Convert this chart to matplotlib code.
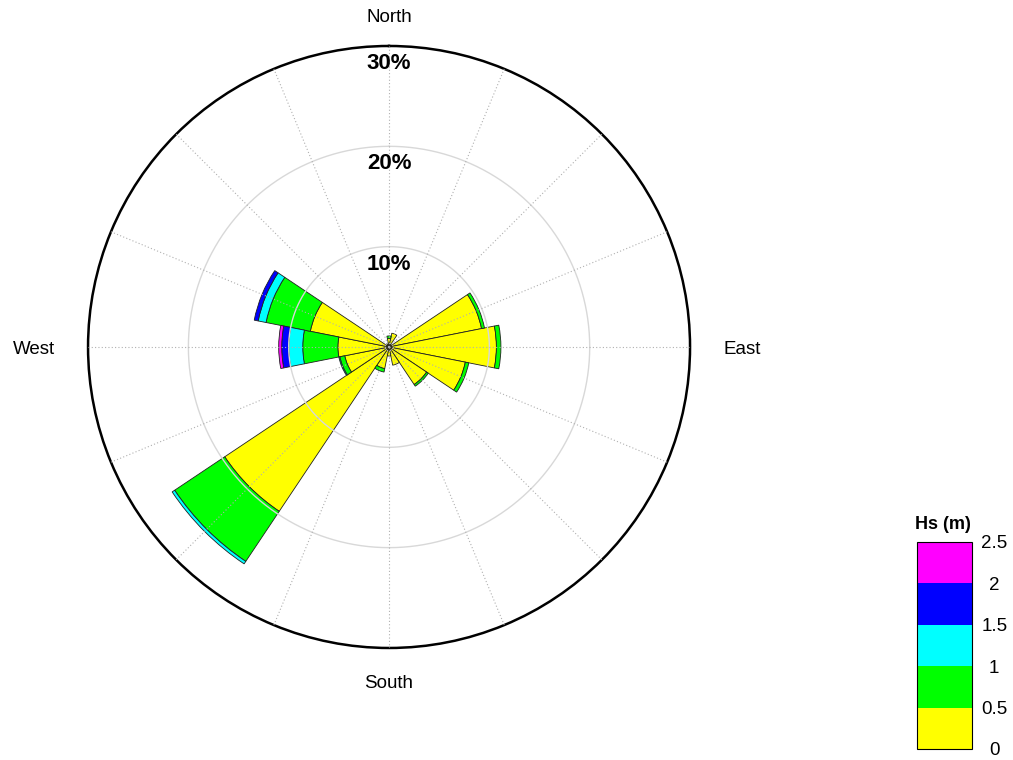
import numpy as np
import matplotlib
matplotlib.use("Agg")
import matplotlib.pyplot as plt
import matplotlib.transforms as mtransforms
from matplotlib.colors import ListedColormap, BoundaryNorm
from matplotlib.cm import ScalarMappable

plt.rcParams['font.family'] = ['Liberation Sans', 'DejaVu Sans']

# Direction sectors (clockwise from North, 22.5 deg each)
directions = ['N', 'NNE', 'NE', 'ENE', 'E', 'ESE', 'SE', 'SSE',
              'S', 'SSW', 'SW', 'WSW', 'W', 'WNW', 'NW', 'NNW']

# Frequency of occurrence (%) per direction for each Hs class
hs_0_05 = [0.85, 1.4, 0.4, 9.4, 10.7, 7.75, 4.5, 1.85, 0.9, 2.2, 19.7, 4.5, 5.1, 8.0, 0.3, 0.4]
hs_05_1 = [0.25, 0.0, 0.0, 0.3, 0.45, 0.35, 0.2, 0.0, 0.0, 0.35, 6.0, 0.5, 3.5, 4.5, 0.0, 0.0]
hs_1_15 = [0.0, 0.0, 0.0, 0.0, 0.0, 0.0, 0.0, 0.0, 0.0, 0.0, 0.3, 0.1, 1.4, 0.8, 0.0, 0.0]
hs_15_2 = [0.0, 0.0, 0.0, 0.0, 0.0, 0.0, 0.0, 0.0, 0.0, 0.0, 0.0, 0.0, 0.7, 0.4, 0.0, 0.0]
hs_2_25 = [0.0, 0.0, 0.0, 0.0, 0.0, 0.0, 0.0, 0.0, 0.0, 0.0, 0.0, 0.0, 0.3, 0.0, 0.0, 0.0]

hs_bins = [0, 0.5, 1, 1.5, 2, 2.5]
hs_colors = ['#ffff00', '#00ff00', '#00ffff', '#0000ff', '#ff00ff']
ring_values = [10, 20, 30]

fig = plt.figure(figsize=(10.13, 7.6), dpi=100)
ax = fig.add_axes([0.0869, 0.1474, 0.5943, 0.7921], projection='polar')
ax.set_theta_zero_location('N')
ax.set_theta_direction(-1)

theta = np.deg2rad(np.arange(len(directions)) * 22.5)
width = 2 * np.pi / len(directions)
bottom = np.zeros(len(directions))
for vals, col in zip([hs_0_05, hs_05_1, hs_1_15, hs_15_2, hs_2_25], hs_colors):
    vals = np.asarray(vals, dtype=float)
    m = vals > 0
    ax.bar(theta[m], vals[m], width=width, bottom=bottom[m], color=col,
           edgecolor='#202020', linewidth=0.6, zorder=2)
    bottom += vals

rmax = ring_values[-1]
ax.set_ylim(0, rmax)
ax.set_xticks([])
ax.set_yticks([])
ax.grid(False)

# rings and spokes drawn on top of the bars
tt = np.linspace(0, 2 * np.pi, 721)
for r in ring_values[:-1]:
    ax.plot(tt, np.full_like(tt, r), color='#d8d8d8', lw=1.0, zorder=3)
for t in theta:
    ax.plot([t, t], [0, rmax], color='#b0b0b0', lw=0.8, ls=(0, (1, 2)), zorder=3)
ax.spines['polar'].set_linewidth(1.8)
ax.spines['polar'].set_color('black')

for r in ring_values:
    ax.text(0, r - 2.3, f'{r}%', ha='center', va='baseline', fontsize=16,
            fontweight='bold', zorder=4)

# compass labels
side = mtransforms.offset_copy(ax.transData, fig=fig, y=-7, units='dots')
ax.text(np.deg2rad(0), 32.4, 'North', ha='center', va='baseline', fontsize=13.5)
ax.text(np.deg2rad(180), 34.0, 'South', ha='center', va='baseline', fontsize=13.5)
ax.text(np.deg2rad(90), 33.3, 'East', ha='left', va='baseline', fontsize=13.5,
        transform=side)
ax.text(np.deg2rad(270), 33.3, 'West', ha='right', va='baseline', fontsize=13.5,
        transform=side)

# Hs colour key
cax = fig.add_axes([0.9052, 0.0145, 0.0543, 0.2724])
cmap = ListedColormap(hs_colors)
norm = BoundaryNorm(hs_bins, cmap.N)
cb = fig.colorbar(ScalarMappable(norm=norm, cmap=cmap), cax=cax, ticks=hs_bins)
cb.ax.set_yticklabels([f'{b:g}' for b in hs_bins])
cb.ax.tick_params(length=0, labelsize=13.5, pad=16)
for lbl in cb.ax.get_yticklabels():
    lbl.set_horizontalalignment('center')
cb.outline.set_linewidth(0.8)
fig.text(943 / 1013, 1 - 529 / 760, 'Hs (m)', ha='center', va='baseline',
         fontsize=13, fontweight='bold')

fig.savefig('out.png', dpi=100)
